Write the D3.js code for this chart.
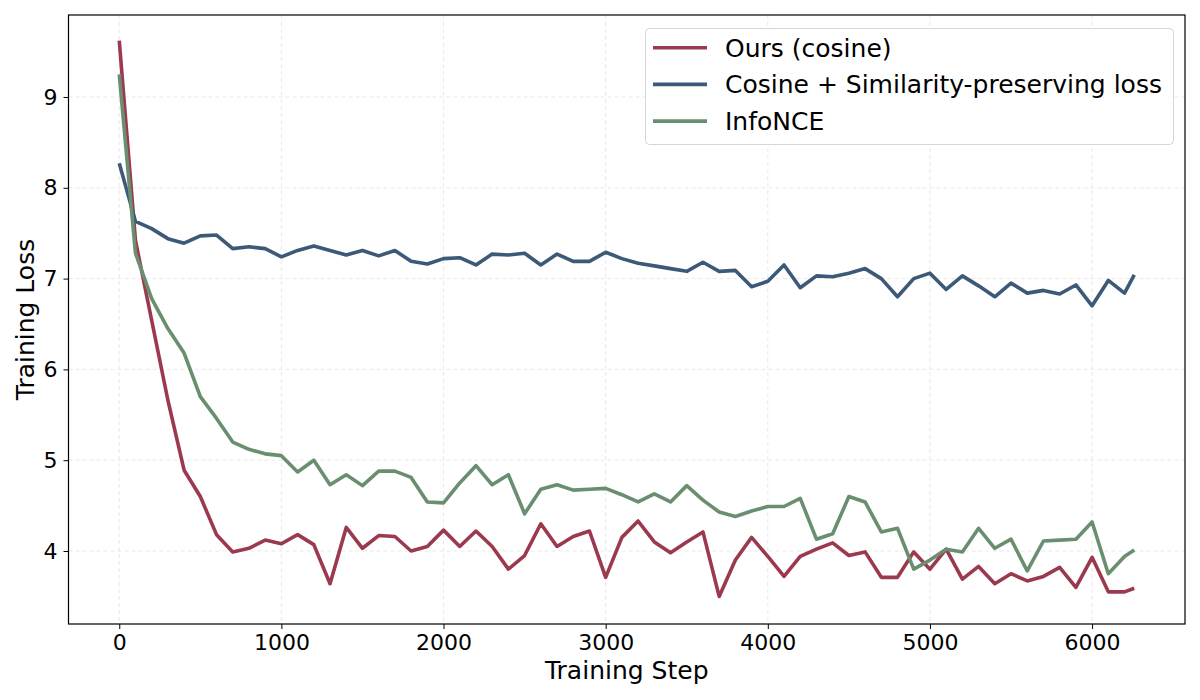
<!DOCTYPE html>
<html><head><meta charset="utf-8">
<script src="https://cdn.jsdelivr.net/npm/d3@7"></script>
<style>body{margin:0;background:#fff;} svg{display:block;font-family:"DejaVu Sans",sans-serif;}</style>
</head><body><svg id="c" width="1200" height="700"></svg>
<script>
const steps = [0,100,200,300,400,500,600,700,800,900,1000,1100,1200,1300,1400,1500,1600,1700,1800,1900,2000,2100,2200,2300,2400,2500,2600,2700,2800,2900,3000,3100,3200,3300,3400,3500,3600,3700,3800,3900,4000,4100,4200,4300,4400,4500,4600,4700,4800,4900,5000,5100,5200,5300,5400,5500,5600,5700,5800,5900,6000,6100,6200,6260];
const oursCosine = [9.62,7.42,6.54,5.66,4.89,4.60,4.18,3.99,4.03,4.12,4.08,4.18,4.07,3.64,4.26,4.03,4.17,4.16,4.00,4.05,4.23,4.05,4.22,4.05,3.80,3.95,4.30,4.05,4.16,4.22,3.71,4.15,4.33,4.10,3.98,4.10,4.21,3.50,3.90,4.15,3.94,3.72,3.94,4.02,4.09,3.95,3.99,3.71,3.71,3.99,3.80,4.02,3.69,3.83,3.64,3.75,3.67,3.72,3.82,3.60,3.93,3.55,3.55,3.59];
const cosineSim = [8.27,7.63,7.55,7.44,7.39,7.47,7.48,7.33,7.35,7.33,7.24,7.31,7.36,7.31,7.26,7.31,7.25,7.31,7.19,7.16,7.22,7.23,7.15,7.27,7.26,7.28,7.15,7.27,7.19,7.19,7.29,7.22,7.17,7.14,7.11,7.08,7.18,7.08,7.09,6.91,6.97,7.15,6.90,7.03,7.02,7.06,7.11,7.00,6.80,7.00,7.06,6.88,7.03,6.92,6.80,6.95,6.84,6.87,6.83,6.93,6.70,6.98,6.84,7.04];
const infoNCE = [9.25,7.28,6.78,6.45,6.18,5.70,5.46,5.20,5.12,5.07,5.05,4.87,5.00,4.73,4.84,4.72,4.88,4.88,4.81,4.54,4.53,4.75,4.94,4.73,4.84,4.41,4.68,4.73,4.67,4.68,4.69,4.62,4.54,4.63,4.54,4.72,4.56,4.43,4.38,4.44,4.49,4.49,4.58,4.13,4.19,4.60,4.54,4.21,4.25,3.80,3.90,4.02,3.99,4.25,4.03,4.13,3.78,4.11,4.12,4.13,4.32,3.75,3.94,4.01];
const seriesNames = ["Ours (cosine)","Cosine + Similarity-preserving loss","InfoNCE"];
const seriesColors = ["#9B3A4E","#3C5A78","#6A8F70"];
const xTicks = [0,1000,2000,3000,4000,5000,6000];
const yTicks = [4,5,6,7,8,9];

const svg = d3.select("#c");
const L=68.5, R=1185, T=15, B=624;
const x = d3.scaleLinear().domain([-313,6573]).range([L,R]);
const y = d3.scaleLinear().domain([3.196,9.903]).range([B,T]);

const g = svg.append("g");
g.selectAll(".gx").data(xTicks).enter().append("line")
 .attr("x1",d=>x(d)).attr("x2",d=>x(d)).attr("y1",T).attr("y2",B)
 .attr("stroke","#e3e3e3").attr("stroke-width",0.8).attr("stroke-dasharray","4,3");
g.selectAll(".gy").data(yTicks).enter().append("line")
 .attr("y1",d=>y(d)).attr("y2",d=>y(d)).attr("x1",L).attr("x2",R)
 .attr("stroke","#e3e3e3").attr("stroke-width",0.8).attr("stroke-dasharray","4,3");

const allSeries=[oursCosine,cosineSim,infoNCE];
const line = d3.line().x((d,i)=>x(steps[i])).y(d=>y(d));
allSeries.forEach((s,k)=>{
  g.append("path").datum(s).attr("d",line).attr("fill","none")
   .attr("stroke",seriesColors[k]).attr("stroke-width",3.6)
   .attr("stroke-linejoin","round");
});

const xa = svg.append("g").attr("transform",`translate(0,${B})`)
 .call(d3.axisBottom(x).tickValues(xTicks).tickSize(5).tickPadding(5).tickFormat(d3.format("d")));
const ya = svg.append("g").attr("transform",`translate(${L},0)`)
 .call(d3.axisLeft(y).tickValues(yTicks).tickSize(5).tickPadding(6).tickFormat(d3.format("d")));
[xa,ya].forEach(a=>{
  a.selectAll("text").attr("font-size",22).attr("fill","#000").attr("font-family","DejaVu Sans");
  a.selectAll("line").attr("stroke","#000").attr("stroke-width",1);
  a.select(".domain").remove();
});
svg.append("rect").attr("x",L).attr("y",T).attr("width",R-L).attr("height",B-T)
 .attr("fill","none").attr("stroke","#000").attr("stroke-width",1.2);

svg.append("text").attr("x",(L+R)/2).attr("y",679).attr("text-anchor","middle")
 .attr("font-size",25).text("Training Step");
svg.append("text").attr("transform",`translate(34,${(T+B)/2}) rotate(-90)`).attr("text-anchor","middle")
 .attr("font-size",25).text("Training Loss");

const lg = svg.append("g");
lg.append("rect").attr("x",645.5).attr("y",28.5).attr("width",528).attr("height",116).attr("rx",4)
 .attr("fill","#fff").attr("fill-opacity",0.85).attr("stroke","#d6d6d6").attr("stroke-width",1);
seriesNames.forEach((n,k)=>{
  const yy = 47.7 + k*36.7;
  lg.append("line").attr("x1",653).attr("x2",707).attr("y1",yy).attr("y2",yy)
   .attr("stroke",seriesColors[k]).attr("stroke-width",3.6);
  lg.append("text").attr("x",725).attr("y",yy).attr("dy","0.36em").attr("font-size",25).text(n);
});
</script></body></html>
